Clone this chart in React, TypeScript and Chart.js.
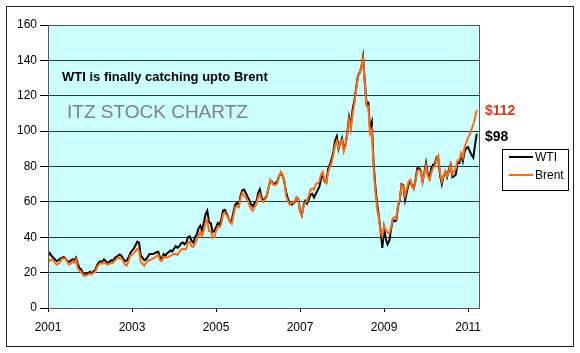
import React, { useEffect, useRef } from "react";
import { Chart, registerables } from "chart.js";

Chart.register(...registerables);

// Semi-monthly prices (two readings per month), starting Jan 2001
const startYear = 2001;
const periodsPerYear = 24;

const wti: number[] = [
  // 2001
  29.5, 31.0, 29.5, 28.5, 27.5, 26.5, 27.0, 28.0, 28.5, 28.8, 28.0, 26.5,
  26.0, 26.8, 27.5, 27.0, 28.5, 25.0, 22.5, 21.8, 19.5, 18.8, 19.2, 19.8,
  // 2002
  20.5, 19.5, 20.8, 21.5, 24.0, 25.8, 26.5, 25.8, 27.5, 26.5, 25.5, 26.0,
  27.0, 26.8, 28.0, 29.0, 29.5, 30.2, 29.5, 27.8, 26.5, 26.8, 28.5, 31.0,
  // 2003
  32.5, 33.5, 35.5, 37.5, 37.0, 29.5, 28.5, 27.0, 27.5, 29.0, 30.5, 30.5,
  30.5, 31.0, 31.5, 31.8, 28.5, 27.5, 30.5, 29.5, 31.0, 31.5, 32.5, 32.0,
  // 2004
  33.5, 35.0, 34.0, 35.0, 36.5, 37.0, 36.0, 37.0, 40.0, 40.5, 38.0, 37.0,
  40.0, 41.5, 45.0, 46.5, 44.0, 48.0, 53.0, 55.0, 48.5, 48.0, 43.0, 43.5,
  // 2005
  45.5, 48.0, 47.0, 50.0, 55.0, 55.5, 53.5, 51.0, 49.0, 49.5, 54.5, 58.5,
  59.5, 58.0, 63.5, 66.5, 67.0, 65.0, 63.0, 61.0, 58.5, 57.5, 59.5, 60.0,
  // 2006
  64.5, 67.0, 62.5, 60.5, 62.0, 63.5, 68.0, 72.0, 71.5, 70.0, 70.5, 71.5,
  74.5, 76.0, 75.0, 71.5, 65.5, 62.0, 59.5, 58.5, 59.0, 60.0, 62.5, 61.5,
  // 2007
  55.0, 52.5, 58.0, 60.5, 59.0, 61.5, 64.0, 64.5, 62.5, 64.5, 66.5, 68.5,
  73.0, 75.5, 71.5, 71.0, 78.5, 81.0, 84.0, 88.0, 94.5, 97.0, 90.0, 93.5,
  // 2008
  96.0, 89.5, 92.5, 99.0, 108.0, 103.0, 112.0, 117.0, 124.0, 131.0, 133.0, 136.0,
  142.0, 128.0, 115.5, 116.0, 101.0, 105.0, 82.0, 69.0, 59.0, 52.0, 44.0, 34.0,
  // 2009
  45.0, 39.0, 36.0, 38.0, 44.5, 50.0, 49.0, 49.5, 57.5, 61.0, 70.0, 69.5,
  61.0, 65.5, 70.0, 72.0, 69.0, 68.0, 72.5, 79.0, 79.0, 77.5, 71.5, 76.5,
  // 2010
  82.0, 76.0, 73.5, 79.0, 81.0, 81.5, 85.0, 84.0, 75.0, 70.0, 74.5, 77.0,
  74.0, 78.0, 81.0, 74.0, 74.5, 75.5, 82.0, 82.0, 86.5, 83.0, 88.5, 90.5,
  // 2011
  91.0, 88.5, 86.5, 85.0, 92.5, 98.5,
];

const brent: number[] = [
  // 2001
  25.5, 27.0, 27.5, 27.0, 25.5, 24.5, 25.0, 26.0, 28.0, 28.0, 28.0, 26.0,
  24.5, 25.0, 26.5, 25.5, 27.5, 22.5, 21.0, 20.5, 18.8, 18.2, 18.5, 19.0,
  // 2002
  19.5, 19.0, 20.0, 20.5, 23.0, 24.5, 25.5, 25.0, 26.0, 25.0, 24.5, 25.0,
  25.5, 25.5, 26.5, 27.5, 28.5, 28.0, 28.0, 26.5, 24.5, 24.0, 26.5, 29.5,
  // 2003
  30.0, 31.0, 32.0, 33.5, 32.5, 26.0, 25.0, 24.0, 25.5, 26.5, 27.0, 27.5,
  28.0, 28.5, 29.5, 30.0, 27.0, 26.5, 29.0, 28.5, 28.5, 29.0, 29.5, 30.0,
  // 2004
  30.5, 30.5, 30.0, 31.5, 33.0, 33.5, 33.0, 33.5, 37.0, 37.5, 35.0, 34.5,
  36.5, 38.5, 41.0, 43.0, 40.5, 44.0, 48.5, 50.0, 43.5, 43.5, 39.5, 40.0,
  // 2005
  43.5, 46.0, 45.5, 47.5, 53.0, 54.0, 52.5, 51.0, 48.5, 47.5, 52.5, 57.0,
  57.5, 57.0, 62.0, 65.0, 63.5, 62.5, 61.0, 58.5, 56.0, 55.0, 57.0, 58.5,
  // 2006
  62.5, 64.5, 61.0, 60.0, 61.5, 63.0, 68.0, 72.5, 71.0, 69.5, 69.5, 70.5,
  74.0, 77.0, 75.5, 72.0, 63.5, 60.5, 58.5, 59.5, 59.5, 60.5, 62.5, 61.0,
  // 2007
  54.5, 52.0, 57.5, 59.5, 60.5, 63.5, 67.0, 67.5, 67.0, 70.0, 70.5, 71.5,
  75.5, 77.0, 71.5, 70.5, 76.5, 79.5, 82.0, 86.5, 92.0, 94.5, 90.5, 94.0,
  // 2008
  95.0, 88.5, 92.0, 98.5, 106.5, 101.0, 109.5, 115.0, 123.0, 130.5, 133.0, 136.5,
  141.0, 127.0, 114.0, 114.0, 98.5, 101.0, 80.0, 66.5, 56.0, 51.0, 43.5, 40.5,
  // 2009
  46.0, 44.5, 42.5, 42.0, 45.5, 50.5, 51.5, 50.5, 58.5, 61.5, 69.5, 69.0,
  63.5, 67.5, 71.5, 72.5, 68.5, 67.0, 71.5, 77.5, 78.0, 77.0, 71.5, 76.0,
  // 2010
  80.5, 74.5, 72.5, 76.5, 79.5, 80.0, 84.0, 86.0, 76.5, 71.5, 74.5, 77.0,
  74.5, 77.0, 80.5, 75.5, 77.5, 79.0, 83.5, 83.5, 87.5, 85.0, 91.0, 93.5,
  // 2011
  96.5, 98.0, 101.0, 104.0, 107.5, 112.0,
];

const xTickYears = [2001, 2003, 2005, 2007, 2009, 2011];
const yTicks = [0, 20, 40, 60, 80, 100, 120, 140, 160];
const seriesNames = ["WTI", "Brent"];
const seriesColors = ["#000000", "#FF6A13"];
const titleText = "WTI is finally catching upto Brent";
const watermarkText = "ITZ STOCK CHARTZ";
const brentLast = "$112";
const wtiLast = "$98";

const FONT = "'Liberation Sans', Arial, sans-serif";

const toXY = (vals: number[]) =>
  vals.map((v, i) => ({ x: startYear + i / periodsPerYear, y: v }));

export default function App() {
  const ref = useRef<HTMLCanvasElement | null>(null);

  useEffect(() => {
    const canvas = ref.current;
    if (!canvas) return;

    const decor = {
      id: "decor",
      beforeDraw(chart: any) {
        const { ctx, chartArea: a } = chart;
        ctx.save();
        ctx.fillStyle = "#ffffff";
        ctx.fillRect(0, 0, chart.width, chart.height);
        ctx.fillStyle = "#CCFFFF";
        ctx.fillRect(a.left, a.top, a.right - a.left, a.bottom - a.top);
        ctx.restore();
      },
      afterDraw(chart: any) {
        const { ctx, chartArea: a } = chart;
        ctx.save();
        // plot border
        ctx.strokeStyle = "#555555";
        ctx.lineWidth = 1;
        ctx.strokeRect(a.left + 0.5, a.top + 0.5, a.right - a.left, a.bottom - a.top);
        // outer frame
        ctx.strokeStyle = "#222222";
        ctx.strokeRect(6.5, 6.5, 567, 340);

        // title annotation
        ctx.textBaseline = "middle";
        ctx.textAlign = "left";
        ctx.fillStyle = "#000000";
        ctx.font = `bold 13px ${FONT}`;
        ctx.fillText(titleText, 62, 77);
        ctx.fillStyle = "#808080";
        ctx.font = `19px ${FONT}`;
        ctx.fillText(watermarkText, 67, 113);

        // last values
        ctx.font = `bold 14px ${FONT}`;
        ctx.fillStyle = "#E0381A";
        ctx.fillText(brentLast, 485, 111);
        ctx.fillStyle = "#000000";
        ctx.fillText(wtiLast, 485, 137);

        // legend
        ctx.fillStyle = "#ffffff";
        ctx.fillRect(502, 149, 66, 41);
        ctx.strokeStyle = "#000000";
        ctx.strokeRect(502.5, 149.5, 66, 41);
        ctx.font = `12px ${FONT}`;
        const rows = [157, 175];
        seriesNames.forEach((name, i) => {
          ctx.strokeStyle = seriesColors[i];
          ctx.lineWidth = 2;
          ctx.beginPath();
          ctx.moveTo(509, rows[i]);
          ctx.lineTo(533, rows[i]);
          ctx.stroke();
          ctx.fillStyle = "#000000";
          ctx.fillText(name, 535, rows[i] + 1);
        });
        ctx.restore();
      },
    };

    const chart = new Chart(canvas, {
      type: "line",
      data: {
        datasets: [
          {
            label: seriesNames[0],
            data: toXY(wti),
            borderColor: seriesColors[0],
            backgroundColor: seriesColors[0],
            borderWidth: 2,
            pointRadius: 0,
            tension: 0,
            order: 1,
          },
          {
            label: seriesNames[1],
            data: toXY(brent),
            borderColor: seriesColors[1],
            backgroundColor: seriesColors[1],
            borderWidth: 2,
            pointRadius: 0,
            tension: 0,
            order: 0,
          },
        ],
      },
      plugins: [decor],
      options: {
        animation: false,
        responsive: false,
        events: [],
        layout: { padding: { left: 0, top: 25, right: 101, bottom: 0 } },
        plugins: { legend: { display: false }, tooltip: { enabled: false } },
        scales: {
          x: {
            type: "linear",
            min: 2001,
            max: 2011.26,
            afterBuildTicks: (scale: any) => {
              scale.ticks = xTickYears.map((v) => ({ value: v }));
            },
            afterFit: (scale: any) => {
              scale.height = 45;
            },
            ticks: {
              callback: (v: any) => String(v),
              font: { family: FONT, size: 12 },
              color: "#000000",
              padding: 8,
              maxRotation: 0,
              autoSkip: false,
            },
            grid: {
              drawOnChartArea: false,
              drawTicks: true,
              tickLength: 4,
              tickColor: "#000000",
            },
            border: { display: true, color: "#000000", width: 1 },
          },
          y: {
            min: 0,
            max: 160,
            afterBuildTicks: (scale: any) => {
              scale.ticks = yTicks.map((v) => ({ value: v }));
            },
            afterFit: (scale: any) => {
              scale.width = 48;
            },
            ticks: {
              font: { family: FONT, size: 12 },
              color: "#000000",
              padding: 3,
            },
            grid: {
              color: "#1E3C3C",
              lineWidth: 1,
              drawTicks: true,
              tickLength: 8,
              tickColor: "#000000",
            },
            border: { display: true, color: "#000000", width: 1 },
          },
        },
      },
    } as any);

    return () => chart.destroy();
  }, []);

  return (
    <div style={{ position: "absolute", left: 0, top: 0, width: 580, height: 353, background: "#fff" }}>
      <canvas ref={ref} width={580} height={353} style={{ display: "block" }} />
    </div>
  );
}
